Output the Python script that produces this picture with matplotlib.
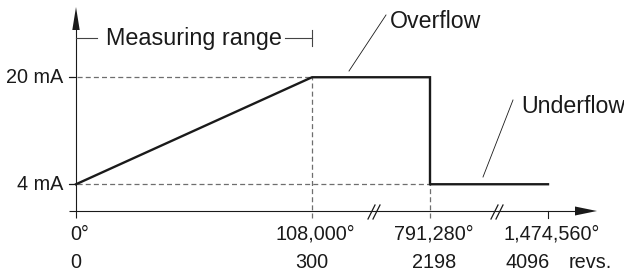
import matplotlib
matplotlib.use("Agg")
import matplotlib.pyplot as plt
from matplotlib.patches import Polygon

plt.rcParams['font.family'] = ['Liberation Sans', 'DejaVu Sans']

# ---- data ----
positions = [0, 2, 3, 4]                      # schematic x positions of the breakpoints
angle_labels = ['0°', '108,000°', '791,280°', '1,474,560°']
rev_labels = ['0', '300', '2198', '4096']
current_levels = [4, 20]                      # mA
current_labels = ['4 mA', '20 mA']
signal_x = [0, 2, 3, 3, 4]
signal_y = [4, 20, 20, 4, 4]

W, H = 624, 276
fig = plt.figure(figsize=(W / 100, H / 100), dpi=100)
ax = fig.add_axes([0, 0, 1, 1])
ax.axis('off')

X0, UX = 76.0, 118.0       # pixel of x=0, pixels per unit
Y0, UY = 211.0, 6.6875     # pixel of y=0, pixels per mA
ax.set_xlim(-X0 / UX, (W - X0) / UX)
ax.set_ylim((Y0 - H) / UY, Y0 / UY)

def px(p):
    return (p - X0) / UX

def py(p):
    return (Y0 - p) / UY

ink = '#1a1a1a'
grey = '#6e6e6e'

# axes
ax.plot([0, 0], [py(218), py(28)], color=ink, lw=0.8, solid_capstyle='butt')
ax.plot([px(69), px(578)], [0, 0], color=ink, lw=0.8, solid_capstyle='butt')
ax.add_patch(Polygon([[0, py(7)], [px(72.3), py(30)], [px(79.7), py(30)]],
                     closed=True, color=ink, lw=0))
ax.add_patch(Polygon([[px(597), 0], [px(575), py(206.5)], [px(575), py(215.5)]],
                     closed=True, color=ink, lw=0))

# end tick
ax.plot([positions[3], positions[3]], [0, py(218)], color=ink, lw=0.8)

# axis breaks
for xb in [px(374), px(497)]:
    for dx in (-2.5, 2.5):
        ax.plot([xb + (dx - 3.5) / UX, xb + (dx + 3.5) / UX], [py(219), py(205)],
                color=ink, lw=0.9)

# guide lines
dash = (4, 2.5)
ax.plot([px(69), positions[1]], [current_levels[1]] * 2, color=grey, lw=0.9, dashes=dash)
ax.plot([px(69), positions[2]], [current_levels[0]] * 2, color=grey, lw=0.9, dashes=dash)
ax.plot([positions[1]] * 2, [py(218), current_levels[1]], color=grey, lw=0.9, dashes=dash)
ax.plot([positions[2]] * 2, [py(218), current_levels[0]], color=grey, lw=0.9, dashes=dash)
for lvl in current_levels:
    ax.plot([px(69), 0], [lvl, lvl], color=ink, lw=0.8)

# signal
ax.plot(signal_x, signal_y, color=ink, lw=1.7, solid_joinstyle='miter')

# y labels
fs = 14.3
for lvl, lab in zip(current_levels, current_labels):
    ax.text(px(63), lvl, lab, ha='right', va='center', fontsize=fs, color=ink)

# x labels
ax.text(px(70), py(240), angle_labels[0], ha='left', va='baseline', fontsize=fs, color=ink)
for i in (1, 2, 3):
    ax.annotate(angle_labels[i], (positions[i], py(240)), xytext=(2.5, 0),
                textcoords='offset points', ha='center', va='baseline', fontsize=fs, color=ink)
ax.text(px(70), py(268), rev_labels[0], ha='left', va='baseline', fontsize=fs, color=ink)
ax.annotate(rev_labels[1], (positions[1], py(268)), ha='center', va='baseline', fontsize=fs, color=ink)
ax.annotate(rev_labels[2], (positions[2], py(268)), xytext=(3, 0), textcoords='offset points',
            ha='center', va='baseline', fontsize=fs, color=ink)
ax.annotate(rev_labels[3], (positions[3], py(268)), xytext=(1.5, 0), textcoords='offset points',
            ha='right', va='baseline', fontsize=fs, color=ink)
ax.text(px(569), py(268), 'revs.', ha='left', va='baseline', fontsize=fs, color=ink)

# measuring range bracket
ax.plot([0, px(97)], [py(38)] * 2, color='#444444', lw=0.8)
ax.plot([px(285), positions[1]], [py(38)] * 2, color='#444444', lw=0.8)
ax.plot([positions[1]] * 2, [py(30), py(46)], color='#444444', lw=0.8)
ax.text(px(106), py(45), 'Measuring range', ha='left', va='baseline', fontsize=16.8, color=ink)

# overflow / underflow
ax.plot([px(349), px(386)], [py(71), py(15)], color=ink, lw=0.6)
ax.text(px(390), py(28), 'Overflow', ha='left', va='baseline', fontsize=16.7, color=ink)
ax.plot([px(483), px(513)], [py(177), py(100)], color=ink, lw=0.6)
ax.text(px(521), py(113), 'Underflow', ha='left', va='baseline', fontsize=16.7, color=ink)

fig.savefig('out.png', dpi=100, facecolor='white')
